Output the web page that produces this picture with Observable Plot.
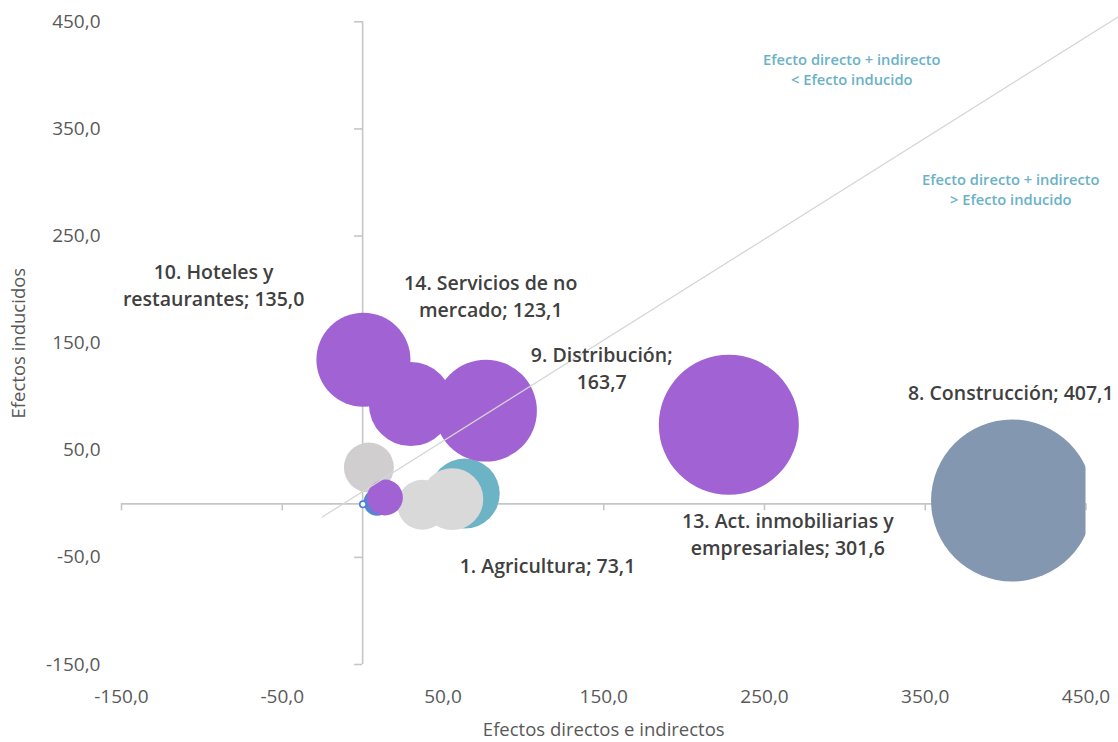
<!DOCTYPE html>
<html>
<head>
<meta charset="utf-8">
<script src="https://cdn.jsdelivr.net/npm/d3@7"></script>
<script src="https://cdn.jsdelivr.net/npm/@observablehq/plot@0.6"></script>
<style>
  html, body { margin: 0; padding: 0; background: #fff; }
  #chart { width: 1118px; height: 742px; }
</style>
</head>
<body>
<div id="chart"></div>
<script>
// ---- Data ----
const sectors = ["Agricultura", "Otro A", "Otro B", "Otro C", "Otro D", "Otro E", "Otro F",
  "Servicios de no mercado", "Hoteles y restaurantes", "Distribución", "Act. inmobiliarias y empresariales", "Construcción"];
const directIndirect = [63.5, 37.1, 55.8, 3.9, 9.0, 13.9, 0.2, 30.0, 0.5, 76.7, 227.8, 404.0];
const induced        = [9.6, -0.9, 4.4, 33.9, 1.5, 5.9, -0.5, 93.1, 134.5, 87.0, 73.8, 3.1];
const sizes          = [187, 95, 146, 95, 28, 49, 1.4, 269, 337, 396, 747, 1000];
const groups         = ["teal", "grey", "grey", "greyDark", "blue", "purple", "ring", "purple", "purple", "purple", "purple", "slate"];

const labelTexts = ["1. Agricultura; 73,1", "14. Servicios de no\nmercado; 123,1", "10. Hoteles y\nrestaurantes; 135,0",
  "9. Distribución;\n163,7", "13. Act. inmobiliarias y\nempresariales; 301,6", "8. Construcción; 407,1"];
const labelX = [115, 79.7, -92.7, 148.7, 264.5, 403.2];
const labelY = [-56.3, 195.3, 205.7, 128.2, -27.3, 105.5];

const noteTexts = ["Efecto directo + indirecto\n< Efecto inducido", "Efecto directo + indirecto\n> Efecto inducido"];
const noteX = [304.3, 403.2];
const noteY = [406.5, 294.4];

const diagX = [-24.9, 470.4];
const diagY = [-12.1, 455];

const ticks = [-150, -50, 50, 150, 250, 350, 450];

// ---- Build tables ----
const bubbles = sectors.map((s, i) => ({sector: s, x: directIndirect[i], y: induced[i], size: sizes[i], group: groups[i]}));
const labels = labelTexts.map((t, i) => ({text: t, x: labelX[i], y: labelY[i]}));
const notes = noteTexts.map((t, i) => ({text: t, x: noteX[i], y: noteY[i]}));
const diag = diagX.map((x, i) => ({x, y: diagY[i]}));

const colorMap = {teal: "#6db3c6", grey: "#d9d9d9", greyDark: "#d0cece", blue: "#5585d4", purple: "#a162d4", ring: "#ffffff", slate: "#8497b0"};
const fmt = d => d3.format(".1f")(d).replace(".", ",").replace("\u2212", "-");
const font = "'Open Sans', 'Noto Sans', sans-serif";
const axisColor = "#c6c6c6";

const normal = bubbles.filter(d => d.group !== "slate" && d.group !== "ring");
const ring = bubbles.filter(d => d.group === "ring");
const slate = bubbles.filter(d => d.group === "slate");

const chart = Plot.plot({
  width: 1118,
  height: 742,
  marginLeft: 121,
  marginRight: 32.5,
  marginTop: 21.3,
  marginBottom: 78,
  style: {fontFamily: font, background: "#fff", overflow: "visible"},
  x: {domain: [-150, 450]},
  y: {domain: [-150, 450]},
  r: {type: "sqrt", domain: [0, 1000], range: [0, 81]},
  marks: [
    Plot.axisX({ticks, tickSize: 0, tickPadding: 25, tickFormat: fmt, fontSize: 19, color: "#595959",
      label: "Efectos directos e indirectos", labelAnchor: "center", labelArrow: "none", labelOffset: 71}),
    Plot.axisY({ticks, tickSize: 0, tickPadding: 21, tickFormat: fmt, fontSize: 19, color: "#595959",
      label: "Efectos inducidos", labelAnchor: "center", labelArrow: "none", labelOffset: 110}),
    // axis lines crossing at the origin
    Plot.ruleY([0], {x1: -150, x2: 450, stroke: axisColor, strokeWidth: 1.6}),
    Plot.ruleX([0], {y1: -150, y2: 450, stroke: axisColor, strokeWidth: 1.6}),
    Plot.ruleX(ticks, {x: d => d, y1: 0, y2: -6.5, stroke: axisColor, strokeWidth: 1.6}),
    Plot.ruleY(ticks, {y: d => d, x1: -5, x2: 0, stroke: axisColor, strokeWidth: 1.6}),
    // bubbles (drawn in series order)
    Plot.dot(normal, {x: "x", y: "y", r: "size", fill: d => colorMap[d.group], stroke: "none", sort: null}),
    Plot.dot(ring, {x: "x", y: "y", r: 3.2, fill: "#ffffff", stroke: "#4f7fcf", strokeWidth: 1.6}),
    Plot.dot(slate, {x: "x", y: "y", r: "size", fill: d => colorMap[d.group], stroke: "none", clip: true}),
    // diagonal reference line
    Plot.line(diag, {x: "x", y: "y", stroke: "#d6d6d6", strokeWidth: 1.3}),
    // labels
    Plot.text(labels, {x: "x", y: "y", text: "text", fontSize: 19.5, fontWeight: 600, fill: "#404040", lineHeight: 1.4}),
    Plot.text(notes, {x: "x", y: "y", text: "text", fontSize: 14.7, fontWeight: 600, fill: "#6ab2c6", lineHeight: 1.4})
  ]
});
chart.querySelectorAll("[aria-label='x-axis label'] text, [aria-label='y-axis label'] text").forEach(t => t.setAttribute("font-size", 18.5));
document.getElementById("chart").appendChild(chart);
</script>
</body>
</html>
